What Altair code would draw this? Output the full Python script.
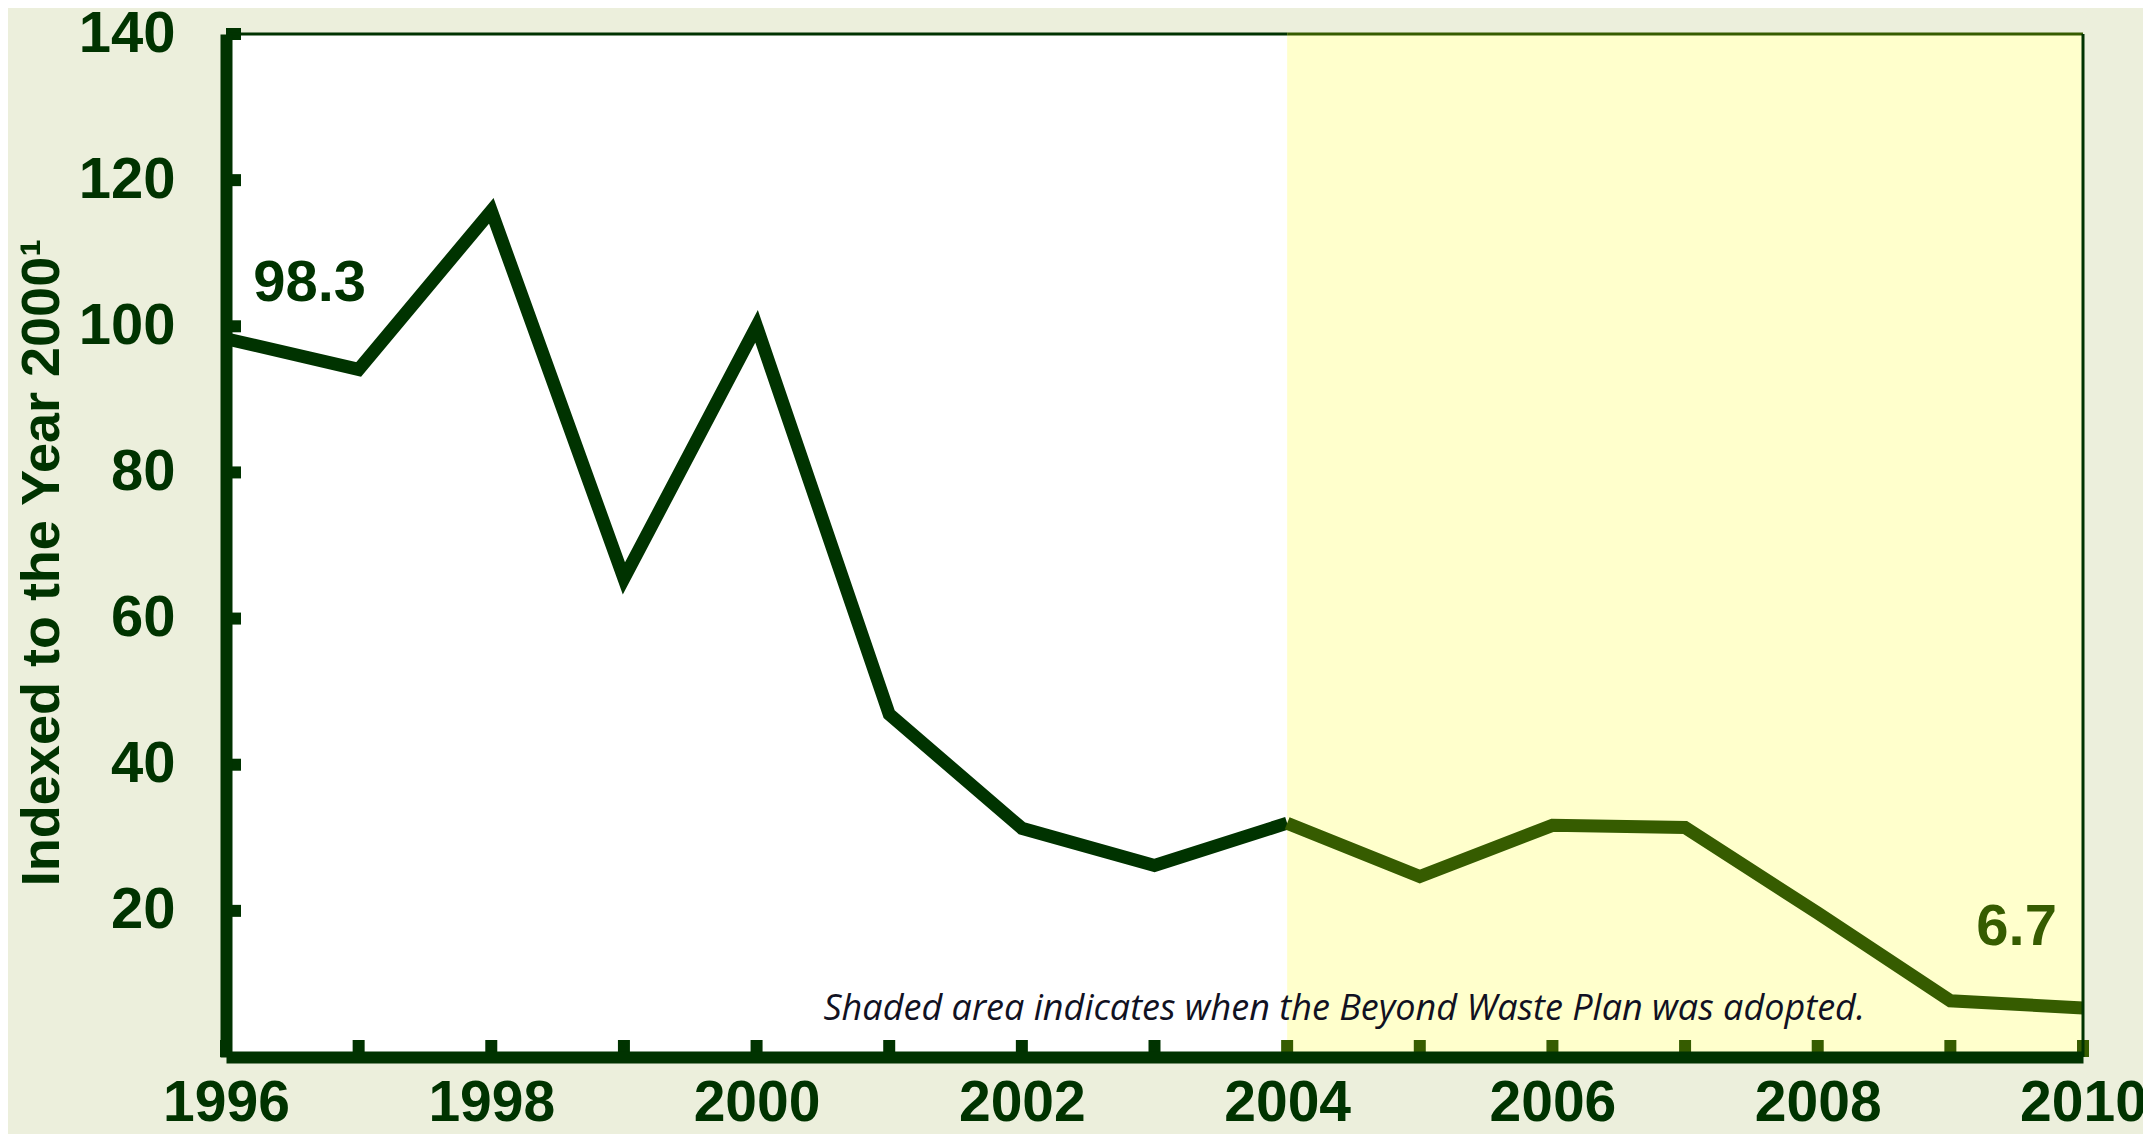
import altair as alt
import pandas as pd

# ---- data ----
years = [1996, 1997, 1998, 1999, 2000, 2001, 2002, 2003, 2004, 2005, 2006, 2007, 2008, 2009, 2010]
values = [98.3, 94.1, 115.8, 65.5, 100.0, 46.9, 31.3, 26.2, 32.0, 24.7, 31.7, 31.4, 19.7, 7.7, 6.7]
plan_start = 2004
plan_end = 2010
y_max = 140
y_ticks = [20, 40, 60, 80, 100, 120, 140]
x_label_years = [1996, 1998, 2000, 2002, 2004, 2006, 2008, 2010]
ann_text = ["98.3", "6.7"]
ann_x = [1996.63, 2009.5]
ann_y = [105.8, 17.6]
note_text = "Shaded area indicates  when the Beyond Waste Plan was adopted."
note_x = 2004.43
note_y = 5.1
y_title = "Indexed to the Year 2000\u00b9"

DARK = "#003300"
OLIVE = "#365C00"
BG = "#ECEFDC"
SHADE = "#FFFFCC"

W, H = 1857, 1023

df = pd.DataFrame({"year": years, "value": values})
pre = df[df.year <= plan_start]
post = df[df.year >= plan_start]
shade_df = pd.DataFrame({"x": [plan_start], "x2": [plan_end], "y": [0], "y2": [y_max]})
ann_df = pd.DataFrame({"t": ann_text, "x": ann_x, "y": ann_y, "grp": ["pre", "post"]})
note_df = pd.DataFrame({"t": [note_text], "x": [note_x], "y": [note_y]})
tick_df = pd.DataFrame({"year": years})
ytick_df = pd.DataFrame({"v": y_ticks})
top_df = pd.DataFrame({"x": [years[0], plan_start], "x2": [plan_start, plan_end],
                       "y": [y_max, y_max], "grp": ["pre", "post"]})
right_df = pd.DataFrame({"x": [plan_end], "y": [0], "y2": [y_max]})

xscale = alt.Scale(domain=[years[0], plan_end], nice=False, zero=False)
yscale = alt.Scale(domain=[0, y_max], nice=False)

LABEL_FONT = "Liberation Sans"

x_axis = alt.Axis(values=x_label_years, format="d", title=None, ticks=False,
                  grid=False, labelFont=LABEL_FONT, labelFontWeight="bold",
                  labelFontSize=57, labelColor=DARK, labelPadding=18,
                  labelFlush=False, labelOverlap=False, labelBound=False,
                  domainColor=DARK, domainWidth=12, zindex=2)
y_axis = alt.Axis(values=y_ticks, title=y_title, ticks=False, grid=False,
                  labelFont=LABEL_FONT, labelFontWeight="bold", labelFontSize=58,
                  labelColor=DARK, labelPadding=51, labelOverlap=False,
                  labelBound=False, labelFlush=False,
                  domainColor=DARK, domainWidth=12,
                  titleFont=LABEL_FONT,
                  titleFontWeight="bold", titleFontSize=54, titleColor=DARK,
                  titleAngle=270, titleX=-184, titleY=528, titleAlign="center",
                  titleBaseline="middle", zindex=2)

shade = alt.Chart(shade_df).mark_rect(color=SHADE).encode(
    x=alt.X("x:Q", scale=xscale, axis=x_axis), x2="x2:Q",
    y=alt.Y("y:Q", scale=yscale, axis=y_axis), y2="y2:Q")

line_pre = alt.Chart(pre).mark_line(color=DARK, strokeWidth=13).encode(
    x=alt.X("year:Q", scale=xscale), y=alt.Y("value:Q", scale=yscale))
line_post = alt.Chart(post).mark_line(color=OLIVE, strokeWidth=13).encode(
    x=alt.X("year:Q", scale=xscale), y=alt.Y("value:Q", scale=yscale))

ann = alt.Chart(ann_df).mark_text(font=LABEL_FONT, fontWeight="bold", fontSize=58,
                                  baseline="middle", align="center").encode(
    x=alt.X("x:Q", scale=xscale), y=alt.Y("y:Q", scale=yscale), text="t:N",
    color=alt.Color("grp:N", scale=alt.Scale(domain=["pre", "post"], range=[DARK, OLIVE]),
                    legend=None))

note = alt.Chart(note_df).mark_text(font="Open Sans", fontStyle="italic", fontSize=36,
                                    color="#111122", baseline="alphabetic",
                                    align="center").encode(
    x=alt.X("x:Q", scale=xscale), y=alt.Y("y:Q", scale=yscale), text="t:N")

xticks = alt.Chart(tick_df).mark_rule(strokeWidth=12).encode(
    x=alt.X("year:Q", scale=xscale), y=alt.value(H - 17), y2=alt.value(H),
    color=alt.condition(alt.datum.year >= plan_start, alt.value(OLIVE), alt.value(DARK)))

yticks = alt.Chart(ytick_df).mark_rule(strokeWidth=12, color=DARK).encode(
    y=alt.Y("v:Q", scale=yscale), x=alt.value(0), x2=alt.value(15))

top = alt.Chart(top_df).mark_rule(strokeWidth=3).encode(
    x=alt.X("x:Q", scale=xscale), x2="x2:Q", y=alt.Y("y:Q", scale=yscale),
    color=alt.Color("grp:N", scale=alt.Scale(domain=["pre", "post"], range=[DARK, OLIVE]),
                    legend=None))

right = alt.Chart(right_df).mark_rule(strokeWidth=3, color=DARK).encode(
    x=alt.X("x:Q", scale=xscale), y=alt.Y("y:Q", scale=yscale), y2="y2:Q")

chart = alt.layer(shade, line_pre, line_post, ann, note, xticks, yticks, top, right).properties(
    width=W, height=H,
    autosize=alt.AutoSizeParams(type="none"),
    padding={"left": 218, "top": 26, "right": 60, "bottom": 77},
    background=BG,
).configure_view(fill="white", stroke=None)

chart.save("out.html", embed_options={"renderer": "svg", "actions": False})
